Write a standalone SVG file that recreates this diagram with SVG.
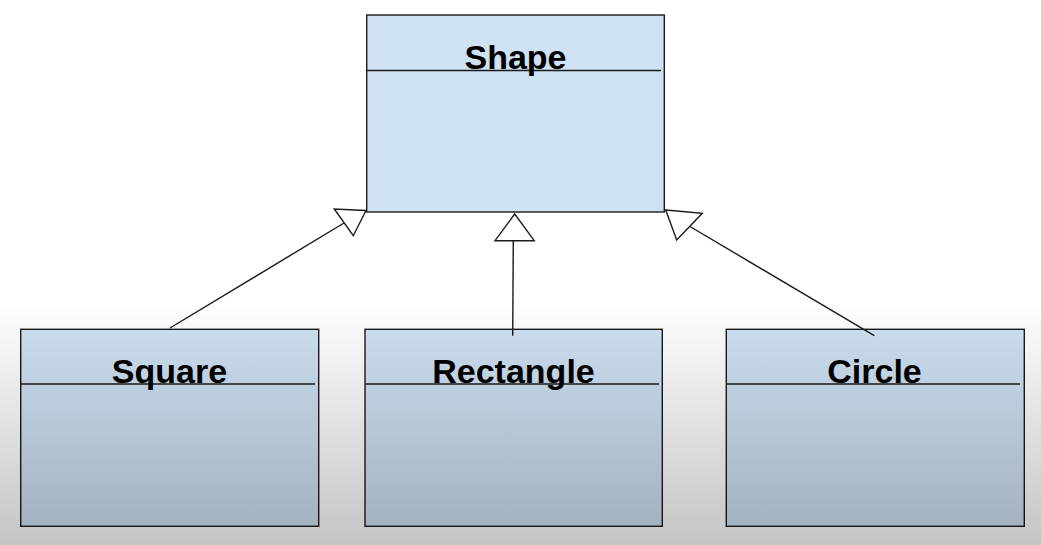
<svg xmlns="http://www.w3.org/2000/svg" width="1041" height="545" viewBox="0 0 1041 545">
  <defs>
    <linearGradient id="shade" x1="0" y1="0" x2="0" y2="1">
      <stop offset="0" stop-color="#000" stop-opacity="0"/>
      <stop offset="1" stop-color="#000" stop-opacity="0.23"/>
    </linearGradient>
  </defs>
  <style>
    .box { fill: #cfe2f3; stroke: #1a1a1a; stroke-width: 1.4; }
    .div { stroke: #1a1a1a; stroke-width: 1.4; }
    .name { font-family: "Liberation Sans", Arial, sans-serif; font-weight: bold; font-size: 34px; fill: #000; text-anchor: middle; }
    .edge { stroke: #1a1a1a; stroke-width: 1.4; fill: none; }
    .head { fill: #ffffff; stroke: #1a1a1a; stroke-width: 1.4; stroke-linejoin: miter; }
  </style>

  <rect x="0" y="0" width="1041" height="545" fill="#ffffff"/>

  <g id="shape">
    <rect class="box" x="366.7" y="15" width="297.6" height="197"/>
    <line class="div" x1="367" y1="70.5" x2="661" y2="70.5"/>
    <text class="name" x="515.5" y="69">Shape</text>
  </g>

  <g id="square">
    <rect class="box" x="20.7" y="329.3" width="298" height="197"/>
    <line class="div" x1="21" y1="384" x2="315" y2="384"/>
    <text class="name" x="169.5" y="383">Square</text>
  </g>

  <g id="rectangle">
    <rect class="box" x="365" y="329.3" width="297.3" height="197"/>
    <line class="div" x1="365.5" y1="384" x2="659" y2="384"/>
    <text class="name" x="513.5" y="383">Rectangle</text>
  </g>

  <g id="circle">
    <rect class="box" x="726.3" y="329.3" width="298" height="197"/>
    <line class="div" x1="727" y1="384" x2="1020" y2="384"/>
    <text class="name" x="874.5" y="383">Circle</text>
  </g>

  <g id="connectors">
    <!-- Square to Shape -->
    <line class="edge" x1="170" y1="328" x2="344" y2="223"/>
    <polygon class="head" points="366,210.5 334.3,209 353.3,235.7"/>
    <!-- Rectangle to Shape -->
    <line class="edge" x1="512.7" y1="335.7" x2="513.3" y2="240.7"/>
    <polygon class="head" points="514.7,214 495,240.7 534.3,240.7"/>
    <!-- Circle to Shape -->
    <line class="edge" x1="874.3" y1="335.7" x2="690" y2="226.5"/>
    <polygon class="head" points="665.7,210 702.3,213.3 676.7,240"/>
  </g>

  <!-- soft darkening toward the lower edge -->
  <rect x="0" y="300" width="1041" height="245" fill="url(#shade)"/>
</svg>
